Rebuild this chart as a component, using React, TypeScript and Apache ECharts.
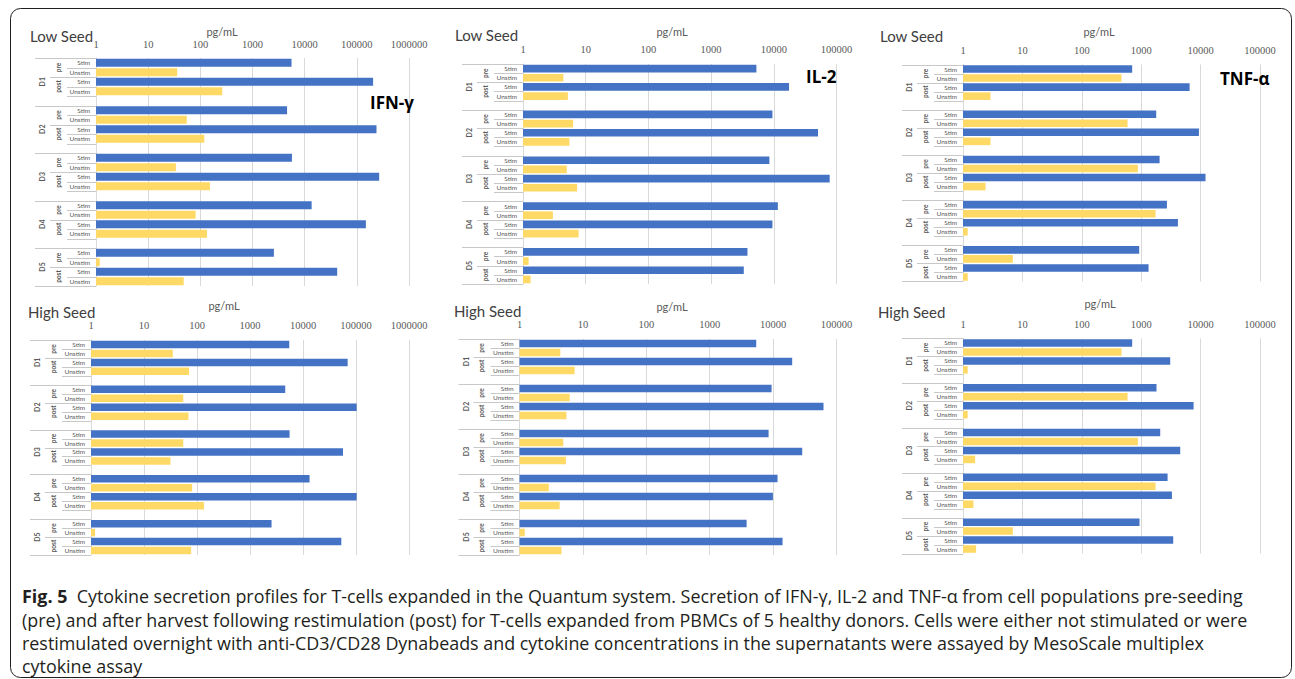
import React, { useEffect, useRef } from "react";
import * as echarts from "echarts";

// ---------- data ----------
const donors = ["D1", "D2", "D3", "D4", "D5"];
const phases = ["pre", "post"];
const conditions = ["Stim", "Unstim"];
const decadeLabels = ["1", "10", "100", "1000", "10000", "100000", "1000000"];

// row order: D1 pre Stim, D1 pre Unstim, D1 post Stim, D1 post Unstim, D2 pre Stim, ...
const ifnLow = [5600, 36, 205000, 263, 4600, 55, 238000, 119, 5700, 34, 268000, 153, 13600, 81, 149000, 134, 2570, 1.18, 42000, 48];
const il2Low = [5280, 4.4, 17500, 5.2, 9500, 6.3, 50700, 5.5, 8500, 5.0, 77800, 7.3, 11600, 3.0, 9500, 7.7, 3800, 1.23, 3320, 1.32];
const tnfLow = [705, 466, 6530, 2.9, 1790, 589, 9370, 2.9, 2040, 879, 12100, 2.4, 2710, 1745, 4150, 1.2, 925, 6.9, 1330, 1.2];
const ifnHigh = [5500, 35, 69600, 71, 4620, 55, 103000, 69, 5580, 55, 56800, 31.5, 13300, 81, 103000, 136, 2550, 1.19, 52800, 77.5];
const il2High = [5420, 4.4, 20000, 7.4, 9460, 6.2, 62400, 5.5, 8490, 4.9, 28800, 5.4, 11750, 2.9, 9930, 4.3, 3820, 1.21, 14100, 4.6];
const tnfHigh = [705, 466, 3080, 1.2, 1810, 589, 7620, 1.2, 2090, 879, 4540, 1.6, 2780, 1745, 3290, 1.5, 937, 6.9, 3460, 1.66];

const captionLines = [
  "Cytokine secretion profiles for T-cells expanded in the Quantum system. Secretion of IFN-γ, IL-2 and TNF-α from cell populations pre-seeding",
  "(pre) and after harvest following restimulation (post) for T-cells expanded from PBMCs of 5 healthy donors. Cells were either not stimulated or were",
  "restimulated overnight with anti-CD3/CD28 Dynabeads and cytokine concentrations in the supernatants were assayed by MesoScale multiplex",
  "cytokine assay",
];

// ---------- layout ----------
const BLUE = "#4472C4";
const YELLOW = "#FFD966";
const GRID_COLOR = "#d9d9d9";
const SEP_COLOR = "#c8c8c8";
const SANS = "Lato, 'Open Sans', sans-serif";
const NUM_FONT = "'Liberation Serif', serif";

const panels = [
  { seed: "Low Seed", name: "IFN-γ", values: ifnLow, max: 1e6, grid: { left: 96, top: 58, width: 313, height: 228 }, seedPos: [30, 36], unitPos: [222, 31], namePos: [370, 102], labelMargin: 8 },
  { seed: "Low Seed", name: "IL-2", values: il2Low, max: 1e5, grid: { left: 523, top: 64, width: 313.5, height: 220 }, seedPos: [455, 35], unitPos: [672, 31], namePos: [806, 76], labelMargin: 9 },
  { seed: "Low Seed", name: "TNF-α", values: tnfLow, max: 1e5, grid: { left: 963, top: 64.5, width: 297, height: 217 }, seedPos: [880, 36], unitPos: [1099, 31], namePos: [1220, 78], labelMargin: 9 },
  { seed: "High Seed", name: "", values: ifnHigh, max: 1e6, grid: { left: 91, top: 340, width: 318, height: 215 }, seedPos: [28, 312], unitPos: [224, 305], namePos: [0, 0], labelMargin: 9 },
  { seed: "High Seed", name: "", values: il2High, max: 1e5, grid: { left: 519.5, top: 339, width: 317, height: 216 }, seedPos: [454, 311], unitPos: [672, 306], namePos: [0, 0], labelMargin: 9 },
  { seed: "High Seed", name: "", values: tnfHigh, max: 1e5, grid: { left: 963, top: 338.5, width: 297, height: 215 }, seedPos: [878, 312], unitPos: [1100, 303], namePos: [0, 0], labelMargin: 9 },
];

// rows of the multi-level category axis (blank spacer row between donors)
type Row = { donor: number; phase: number; cond: number; vi: number } | null;
const rows: Row[] = [];
{
  let vi = 0;
  donors.forEach((_, di) => {
    phases.forEach((_, pi) => {
      conditions.forEach((_, ci) => {
        rows.push({ donor: di, phase: pi, cond: ci, vi });
        vi++;
      });
    });
    if (di < donors.length - 1) rows.push(null);
  });
}
const rowIds = rows.map((_, k) => "r" + k);
const leafLabels = rows.map((r) => (r ? conditions[r.cond] : ""));

function buildOption(): any {
  return {
    animation: false,
    backgroundColor: "#ffffff",
    grid: panels.map((p) => ({ ...p.grid, containLabel: false })),
    xAxis: panels.map((p, i) => ({
      type: "log",
      logBase: 10,
      gridIndex: i,
      min: 1,
      max: p.max,
      position: "top",
      axisLine: { show: false },
      axisTick: { show: false },
      axisLabel: {
        fontSize: 10.5,
        fontFamily: NUM_FONT,
        color: "#595959",
        margin: p.labelMargin,
        formatter: (v: number) => decadeLabels[Math.round(Math.log10(v))],
      },
      splitLine: { show: true, lineStyle: { color: GRID_COLOR, width: 1 } },
    })),
    yAxis: panels.map((p, i) => ({
      type: "category",
      gridIndex: i,
      inverse: true,
      data: rowIds,
      axisLine: { show: true, lineStyle: { color: GRID_COLOR } },
      axisTick: { show: false },
      axisLabel: {
        interval: 0,
        fontSize: 6.5,
        fontFamily: SANS,
        color: "#595959",
        margin: 6,
        formatter: (_v: string, idx: number) => leafLabels[idx],
      },
      splitLine: { show: false },
    })),
    series: panels.map((p, i) => ({
      type: "bar",
      xAxisIndex: i,
      yAxisIndex: i,
      barCategoryGap: "16%",
      silent: true,
      data: rows.map((r) =>
        r
          ? { value: p.values[r.vi], itemStyle: { color: r.cond === 0 ? BLUE : YELLOW } }
          : "-"
      ),
    })),
  };
}

function buildGraphics(chart: any): any[] {
  const g: any[] = [];
  // outer frame
  g.push({
    type: "rect",
    shape: { x: 10.5, y: 8.5, width: 1281, height: 669, r: 10 },
    style: { fill: "rgba(0,0,0,0)", stroke: "#231f20", lineWidth: 1 },
    silent: true,
  });

  const LEAF = 29, MID = 46, FULL = 61;
  const nRows = rows.length;

  panels.forEach((p, i) => {
    const ax = chart.convertToPixel({ xAxisIndex: i }, 1);
    const cy = (k: number) => chart.convertToPixel({ yAxisIndex: i }, rowIds[k]);
    const band = cy(1) - cy(0);
    const bound = (k: number) => cy(0) - band / 2 + k * band;

    const donorStart = new Set<number>();
    const phaseStart = new Set<number>();
    rows.forEach((r, k) => {
      if (!r) return;
      if (r.phase === 0 && r.cond === 0) donorStart.add(k);
      if (r.cond === 0) phaseStart.add(k);
    });

    for (let k = 0; k <= nRows; k++) {
      let len = LEAF;
      if (donorStart.has(k) || k === nRows) len = FULL;
      else if (phaseStart.has(k)) len = MID;
      const y = Math.round(bound(k)) + 0.5;
      g.push({
        type: "line",
        shape: { x1: ax - len, y1: y, x2: ax, y2: y },
        style: { stroke: SEP_COLOR, lineWidth: 1 },
        silent: true,
      });
    }

    donors.forEach((d, di) => {
      const ks = rows.map((r, k) => (r && r.donor === di ? k : -1)).filter((k) => k >= 0);
      const first = ks[0];
      const last = ks[ks.length - 1];
      const end = last + 1 < nRows && rows[last + 1] === null ? last + 2 : last + 1;
      g.push({
        type: "text",
        x: ax - 54,
        y: (bound(first) + bound(end)) / 2,
        rotation: Math.PI / 2,
        style: { text: d, fontSize: 7, fontFamily: SANS, fontWeight: "bold", fill: "#595959", align: "center", verticalAlign: "middle" },
        silent: true,
      });
      phases.forEach((ph, pi) => {
        const pk = ks.filter((k) => rows[k]!.phase === pi);
        g.push({
          type: "text",
          x: ax - 38,
          y: (bound(pk[0]) + bound(pk[pk.length - 1] + 1)) / 2,
          rotation: Math.PI / 2,
          style: { text: ph, fontSize: 6.5, fontFamily: SANS, fontWeight: "bold", fill: "#595959", align: "center", verticalAlign: "middle" },
          silent: true,
        });
      });
    });

    g.push({
      type: "text",
      x: p.seedPos[0],
      y: p.seedPos[1],
      style: { text: p.seed, fontSize: 15, fontFamily: SANS, fill: "#404040", align: "left", verticalAlign: "middle" },
      silent: true,
    });
    g.push({
      type: "text",
      x: p.unitPos[0],
      y: p.unitPos[1],
      style: { text: "pg/mL", fontSize: 11, fontFamily: SANS, fill: "#595959", align: "center", verticalAlign: "middle" },
      silent: true,
    });
    if (p.name) {
      g.push({
        type: "text",
        x: p.namePos[0],
        y: p.namePos[1],
        style: { text: p.name, fontSize: 17, fontFamily: "'Open Sans', sans-serif", fontWeight: "bold", fill: "#000000", align: "left", verticalAlign: "middle" },
        silent: true,
      });
    }
  });

  // caption
  const capFont = "'Open Sans', sans-serif";
  const capSize = 17.9;
  const capY = [596, 619.5, 643, 665.5];
  captionLines.forEach((line, li) => {
    g.push({
      type: "text",
      x: 22,
      y: capY[li],
      style: li === 0
        ? {
            text: "{b|Fig. 5}  " + line,
            fontSize: capSize,
            fontFamily: capFont,
            fill: "#231f20",
            align: "left",
            verticalAlign: "middle",
            lineHeight: 20,
            rich: { b: { fontSize: capSize, fontFamily: capFont, fontWeight: "bold", fill: "#231f20", lineHeight: 20 } },
          }
        : { text: line, fontSize: capSize, fontFamily: capFont, fill: "#231f20", align: "left", verticalAlign: "middle", lineHeight: 20 },
      silent: true,
    });
  });
  return g;
}

export default function App() {
  const ref = useRef<HTMLDivElement>(null);
  useEffect(() => {
    const chart = echarts.init(ref.current!, null, { renderer: "svg" });
    chart.setOption(buildOption());
    chart.setOption({ graphic: buildGraphics(chart) });
    return () => chart.dispose();
  }, []);
  return (
    <div
      ref={ref}
      style={{ position: "absolute", left: 0, top: 0, width: 1295, height: 679, background: "#ffffff" }}
    />
  );
}
